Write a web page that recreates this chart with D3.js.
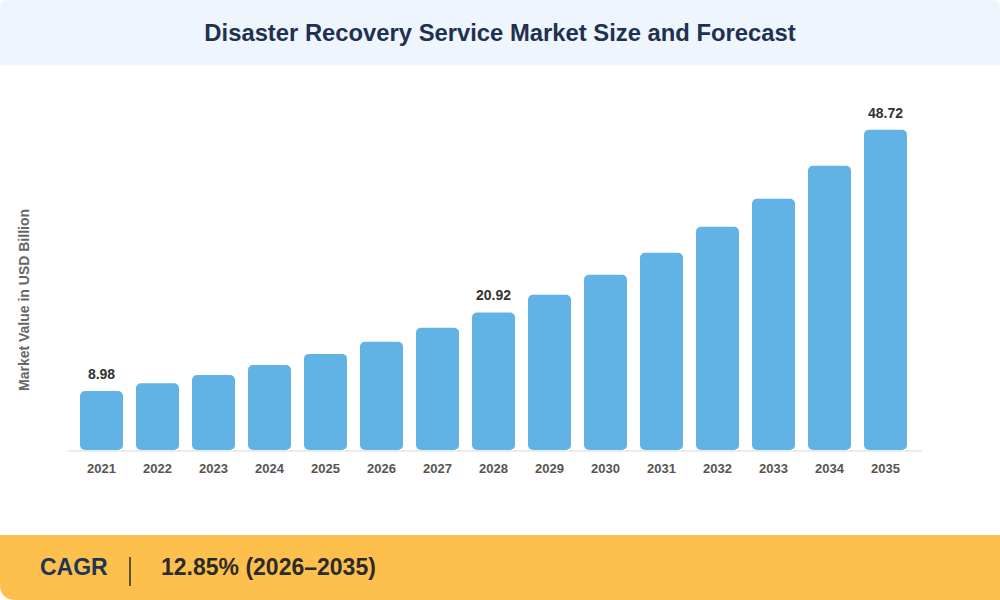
<!DOCTYPE html>
<html>
<head>
<meta charset="UTF-8"/>
<style>
  body { margin: 0; background: #fff; }
  svg { display: block; }
</style>
</head>
<body>
<script src="https://cdn.jsdelivr.net/npm/d3@7/dist/d3.min.js"></script>
<script>
// data
var years = ["2021", "2022", "2023", "2024", "2025", "2026", "2027", "2028",
             "2029", "2030", "2031", "2032", "2033", "2034", "2035"];
var values = [8.98, 10.15, 11.42, 12.93, 14.62, 16.47, 18.60, 20.92,
              23.62, 26.67, 30.01, 33.97, 38.23, 43.25, 48.72];
var labelled = ["2021", "2028", "2035"];   // bars that carry a value label

var title = "Disaster Recovery Service Market Size and Forecast";
var yTitle = "Market Value in USD Billion";
var cagrLabel = "CAGR";
var cagrText = "12.85% (2026\u20132035)";

var width = 1000, height = 600;
var font = "'Liberation Sans', Arial, Helvetica, sans-serif";

var svg = d3.select("body").append("svg")
  .attr("width", width)
  .attr("height", height);

// header band
svg.append("path")
  .attr("d", "M0,8 Q0,0 8,0 H992 Q1000,0 1000,8 V65 H0 Z")
  .attr("fill", "#eef5fd");

svg.append("text")
  .attr("x", width / 2)
  .attr("y", 41)
  .attr("text-anchor", "middle")
  .attr("font-family", font)
  .attr("font-weight", "bold")
  .attr("font-size", 23.8)
  .attr("fill", "#1f3150")
  .text(title);

// scales
var data = years.map(function(y, i) { return { year: y, value: values[i] }; });

var x = d3.scaleBand()
  .domain(years)
  .range([73.5, 913.5])
  .paddingInner(0.232)
  .paddingOuter(0.116);

var y = d3.scaleLinear()
  .domain([0, 50])
  .range([450, 121.3]);

// baseline
svg.append("line")
  .attr("x1", 68).attr("x2", 922)
  .attr("y1", 451).attr("y2", 451)
  .attr("stroke", "#ececec")
  .attr("stroke-width", 2);

// bars
svg.selectAll("rect.bar")
  .data(data)
  .enter().append("rect")
    .attr("class", "bar")
    .attr("x", function(d) { return x(d.year); })
    .attr("y", function(d) { return y(d.value); })
    .attr("width", x.bandwidth())
    .attr("height", function(d) { return y(0) - y(d.value); })
    .attr("rx", 5)
    .attr("fill", "#62b3e5");

// value labels
svg.selectAll("text.val")
  .data(data.filter(function(d) { return labelled.indexOf(d.year) >= 0; }))
  .enter().append("text")
    .attr("class", "val")
    .attr("x", function(d) { return x(d.year) + x.bandwidth() / 2; })
    .attr("y", function(d) { return y(d.value) - 12; })
    .attr("text-anchor", "middle")
    .attr("font-family", font)
    .attr("font-weight", "bold")
    .attr("font-size", 14)
    .attr("fill", "#333")
    .text(function(d) { return d.value.toFixed(2); });

// x axis
var xAxis = svg.append("g")
  .attr("transform", "translate(0,451)")
  .call(d3.axisBottom(x).tickSize(0).tickPadding(13));
xAxis.select(".domain").remove();
xAxis.selectAll("text")
  .attr("font-family", font)
  .attr("font-weight", "bold")
  .attr("font-size", 13)
  .attr("fill", "#555");

// y title
svg.append("text")
  .attr("transform", "translate(29,300) rotate(-90)")
  .attr("text-anchor", "middle")
  .attr("font-family", font)
  .attr("font-weight", "bold")
  .attr("font-size", 14)
  .attr("fill", "#666")
  .text(yTitle);

// CAGR band
svg.append("path")
  .attr("d", "M0,535 H1000 V600 H16 Q0,600 0,584 Z")
  .attr("fill", "#fdc04d");

svg.append("text")
  .attr("x", 40)
  .attr("y", 575)
  .attr("font-family", font)
  .attr("font-weight", "bold")
  .attr("font-size", 23)
  .attr("fill", "#1f3553")
  .text(cagrLabel);

svg.append("line")
  .attr("x1", 130).attr("x2", 130)
  .attr("y1", 557).attr("y2", 586)
  .attr("stroke", "#2b2b2b")
  .attr("stroke-width", 1.5);

svg.append("text")
  .attr("x", 161)
  .attr("y", 575)
  .attr("font-family", font)
  .attr("font-weight", "bold")
  .attr("font-size", 23)
  .attr("fill", "#2b2b2b")
  .text(cagrText);
</script>
</body>
</html>
